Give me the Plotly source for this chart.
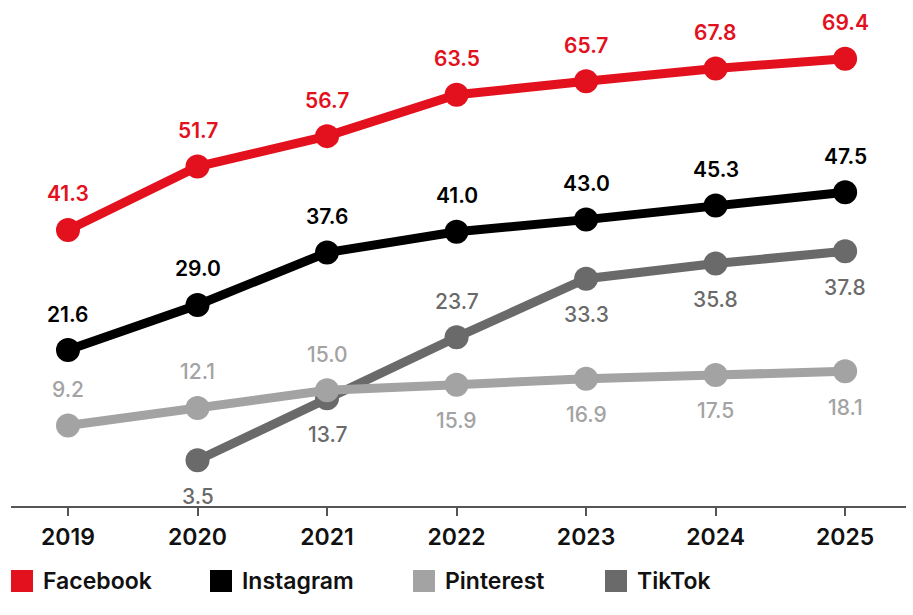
import plotly.graph_objects as go

years = [2019, 2020, 2021, 2022, 2023, 2024, 2025]
facebook = [41.3, 51.7, 56.7, 63.5, 65.7, 67.8, 69.4]
instagram = [21.6, 29.0, 37.6, 41.0, 43.0, 45.3, 47.5]
pinterest = [9.2, 12.1, 15.0, 15.9, 16.9, 17.5, 18.1]
tiktok_years = [2020, 2021, 2022, 2023, 2024, 2025]
tiktok = [3.5, 13.7, 23.7, 33.3, 35.8, 37.8]

legend_names = ["Facebook", "Instagram", "Pinterest", "TikTok"]

# label placement: +1 above, -1 below
fb_pos = [1, 1, 1, 1, 1, 1, 1]
ig_pos = [1, 1, 1, 1, 1, 1, 1]
pin_pos = [1, 1, 1, -1, -1, -1, -1]
tt_pos = [-1, -1, 1, -1, -1, -1]

RED = "#E3101D"
BLACK = "#000000"
LGRAY = "#A3A3A3"
DGRAY = "#6A6A6A"
FONT = "Inter"

series = [
    ("TikTok", tiktok_years, tiktok, DGRAY, tt_pos, 500),
    ("Pinterest", years, pinterest, LGRAY, pin_pos, 500),
    ("Instagram", years, instagram, BLACK, ig_pos, 600),
    ("Facebook", years, facebook, RED, fb_pos, 600),
]
colors = {"Facebook": RED, "Instagram": BLACK, "Pinterest": LGRAY, "TikTok": DGRAY}

fig = go.Figure()
annotations = []
for name, xs, ys, color, pos, weight in series:
    fig.add_trace(go.Scatter(
        x=xs, y=ys, mode="lines+markers", name=name, showlegend=False,
        line=dict(color=color, width=9),
        marker=dict(color=color, size=24),
        hoverinfo="skip",
    ))
    for x, y, p in zip(xs, ys, pos):
        annotations.append(dict(
            x=x, y=y, xref="x", yref="y", text=f"{y:.1f}", showarrow=False,
            yshift=36 * p, font=dict(family=FONT, size=21, color=color, weight=weight),
        ))

# custom legend (large squares) below the axis
W, H = 913, 615
ML, MR, MT, MB = 11, 7, 10, 109
pw, ph = W - ML - MR, H - MT - MB
def px_x(px):
    return (px - ML) / pw
def px_y(py):
    return (H - MB - py) / ph

legend_x = [11, 210, 413, 605]
legend_cy = 581
shapes = []
for name, lx in zip(legend_names, legend_x):
    shapes.append(dict(
        type="rect", xref="paper", yref="paper",
        x0=px_x(lx), x1=px_x(lx + 22), y0=px_y(legend_cy + 11), y1=px_y(legend_cy - 11),
        fillcolor=colors[name], line=dict(width=0),
    ))
    annotations.append(dict(
        x=px_x(lx + 30), y=px_y(legend_cy), xref="paper", yref="paper",
        xanchor="left", yanchor="middle", text=name, showarrow=False,
        font=dict(family=FONT, size=23, color="#111", weight=600),
    ))

fig.update_layout(
    width=W, height=H,
    margin=dict(l=ML, r=MR, t=MT, b=MB),
    plot_bgcolor="white", paper_bgcolor="white",
    annotations=annotations, shapes=shapes,
    showlegend=False,
    xaxis=dict(
        range=[2018.56, 2025.47], tickvals=years, ticktext=[str(y) for y in years],
        showgrid=False, zeroline=False, showline=True, linecolor="#555", linewidth=2,
        ticks="outside", ticklen=8, tickcolor="#555", tickwidth=2,
        ticklabelstandoff=1,
        tickfont=dict(family=FONT, size=23, color="#111", weight=600),
    ),
    yaxis=dict(range=[-4.0, 77.4], visible=False, showgrid=False, zeroline=False),
)

fig.write_html("out.html")
